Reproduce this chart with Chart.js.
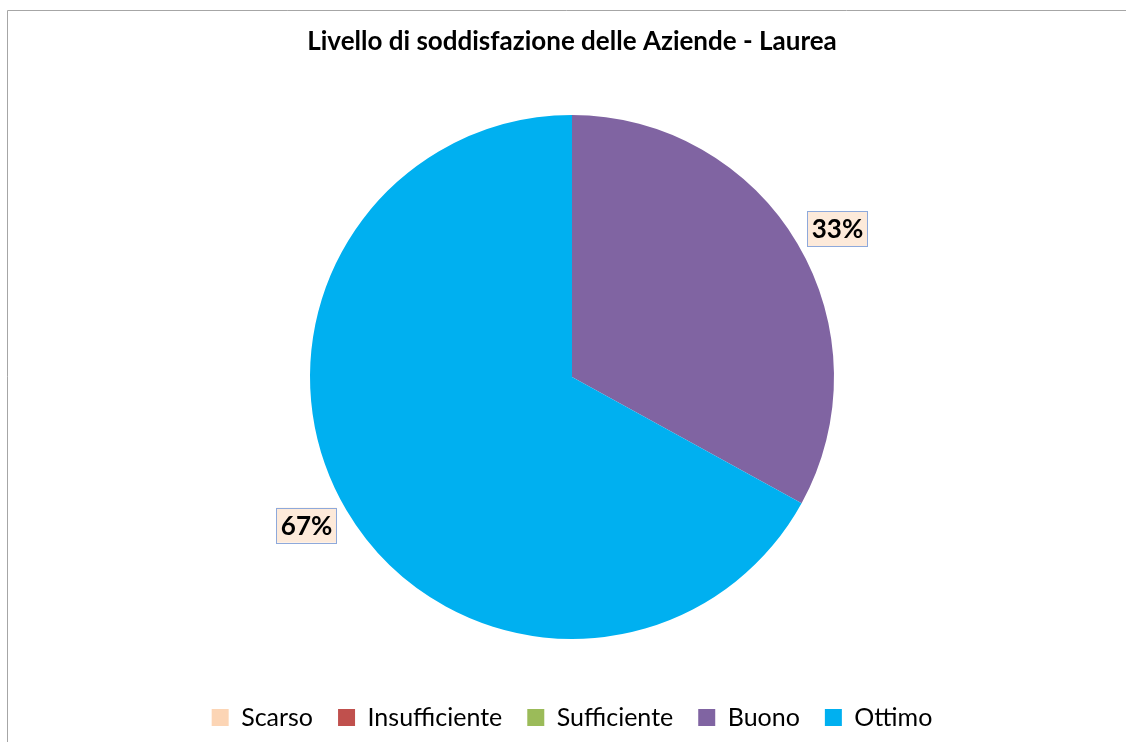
<!DOCTYPE html>
<html lang="it">
<head>
    <meta charset="UTF-8">
    <title>Livello di soddisfazione delle Aziende - Laurea</title>
    <script src="https://cdn.jsdelivr.net/npm/chart.js"></script>
    <style>
        html, body { margin: 0; padding: 0; background: #ffffff; }
        #wrap { position: relative; width: 1126px; height: 742px; }
    </style>
</head>
<body>
    <div id="wrap"><canvas id="myChart"></canvas></div>

    <script>
        // dati del grafico
        const categories = ['Scarso', 'Insufficiente', 'Sufficiente', 'Buono', 'Ottimo'];
        const percentages = [0, 0, 0, 33, 67];
        const sliceColors = ['#FCD5B5', '#C0504D', '#9BBB59', '#8064A2', '#00B0F0'];

        // cornice grigia (bordo sinistro e superiore)
        const frame = {
            id: 'frame',
            beforeDraw(chart) {
                const ctx = chart.ctx;
                ctx.save();
                ctx.strokeStyle = '#A6A6A6';
                ctx.lineWidth = 1;
                ctx.beginPath();
                ctx.moveTo(7.5, chart.height);
                ctx.lineTo(7.5, 10.5);
                ctx.lineTo(chart.width, 10.5);
                ctx.stroke();
                ctx.restore();
            }
        };

        // etichette percentuali fuori dalla torta
        const pctLabels = {
            id: 'pctLabels',
            afterDatasetsDraw(chart) {
                const ctx = chart.ctx;
                const meta = chart.getDatasetMeta(0);
                ctx.save();
                ctx.font = 'bold 26px Lato';
                ctx.textAlign = 'center';
                ctx.textBaseline = 'middle';
                meta.data.forEach((arc, i) => {
                    const v = chart.data.datasets[0].data[i];
                    if (!v) return;
                    const p = arc.getProps(['x', 'y', 'startAngle', 'endAngle', 'outerRadius'], true);
                    const mid = (p.startAngle + p.endAngle) / 2 + 0.025;
                    const r = p.outerRadius + 42;
                    const x = p.x + Math.cos(mid) * r;
                    const y = p.y + Math.sin(mid) * r;
                    const text = v + '%';
                    const w = ctx.measureText(text).width + 9;
                    const h = 35;
                    ctx.fillStyle = '#FDEADA';
                    ctx.fillRect(x - w / 2, y - h / 2, w, h);
                    ctx.strokeStyle = '#8EA9DB';
                    ctx.lineWidth = 1;
                    ctx.strokeRect(Math.round(x - w / 2) + 0.5, Math.round(y - h / 2) + 0.5, Math.round(w), h);
                    ctx.fillStyle = '#000000';
                    ctx.fillText(text, x, y + 1);
                });
                ctx.restore();
            }
        };

        const ctx = document.getElementById('myChart').getContext('2d');
        new Chart(ctx, {
            type: 'pie',
            data: {
                labels: categories,
                datasets: [{
                    data: percentages,
                    backgroundColor: sliceColors,
                    borderWidth: 0,
                    radius: 262
                }]
            },
            options: {
                responsive: true,
                maintainAspectRatio: false,
                animation: false,
                layout: { padding: { top: 0, bottom: 2, left: 18, right: 0 } },
                plugins: {
                    title: {
                        display: true,
                        text: 'Livello di soddisfazione delle Aziende - Laurea',
                        color: '#000000',
                        font: { family: 'Lato', size: 26, weight: 'bold' },
                        padding: { top: 26.4, bottom: 16.4 }
                    },
                    legend: {
                        position: 'bottom',
                        labels: {
                            color: '#000000',
                            font: { family: 'Lato', size: 25 },
                            boxWidth: 17,
                            boxHeight: 17,
                            padding: 25
                        }
                    },
                    tooltip: { enabled: false }
                }
            },
            plugins: [frame, pctLabels]
        });
    </script>
</body>
</html>
